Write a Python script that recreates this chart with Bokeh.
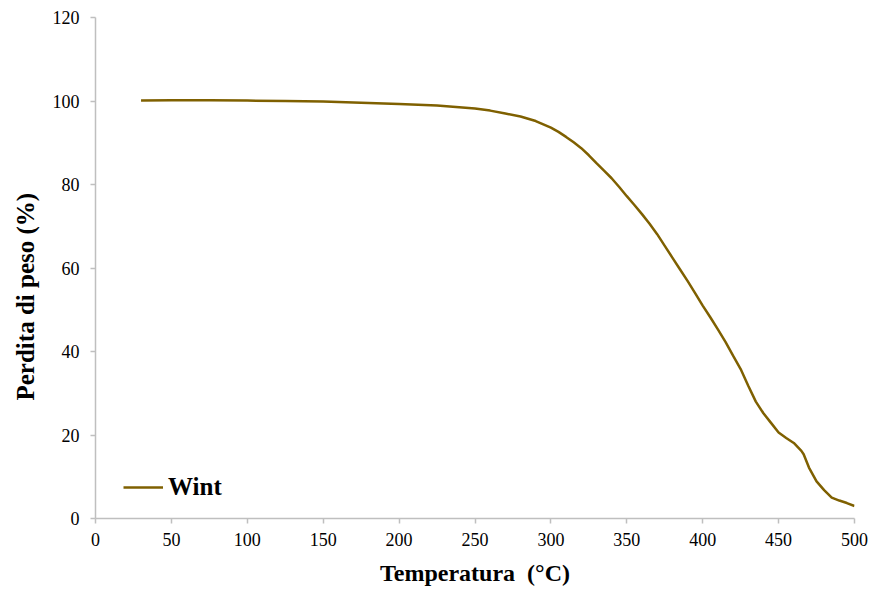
from bokeh.plotting import figure
from bokeh.models import Range1d, Legend, LegendItem, FixedTicker, Title
from bokeh.embed import file_html
from bokeh.resources import INLINE

temperature = [30, 50, 75, 100, 125, 150, 175, 200, 225, 250, 260, 270, 280, 290,
               300, 305, 310, 315, 320, 325, 330, 335, 340, 345, 350, 355, 360,
               365, 370, 375, 380, 385, 390, 395, 400, 405, 410, 415, 420, 425,
               430, 435, 440, 445, 450, 455, 460, 465, 466.5, 470, 475, 480,
               485, 490, 495, 500]
weight_loss = [100.1, 100.2, 100.2, 100.1, 100.0, 99.9, 99.6, 99.3, 98.9, 98.2,
               97.7, 97.0, 96.3, 95.2, 93.6, 92.6, 91.4, 90.1, 88.7, 87.0, 85.1,
               83.3, 81.5, 79.4, 77.2, 75.1, 72.9, 70.6, 68.1, 65.3, 62.5, 59.7,
               56.9, 54.0, 51.0, 48.2, 45.3, 42.3, 39.0, 35.8, 31.8, 28.0, 25.2,
               22.9, 20.6, 19.3, 18.1, 16.2, 15.4, 12.2, 8.9, 6.8, 5.0, 4.3,
               3.7, 3.0]
series_name = "Wint"
x_ticks = [0, 50, 100, 150, 200, 250, 300, 350, 400, 450, 500]
y_ticks = [0, 20, 40, 60, 80, 100, 120]
x_title = "Temperatura \u00a0(°C)"
y_title = "Perdita di peso (%)"

FONT = "Liberation Serif"
AXIS_COLOR = "#BFBFBF"
LINE_COLOR = "#7F6000"

p = figure(width=871, height=590, output_backend="svg", toolbar_location=None,
           x_range=Range1d(0, 500), y_range=Range1d(0, 120),
           min_border_left=95, min_border_right=17, min_border_top=17,
           min_border_bottom=72)
p.outline_line_color = None
p.grid.visible = False
p.background_fill_color = "white"
p.border_fill_color = "white"

for ax in (p.xaxis[0], p.yaxis[0]):
    ax.axis_line_color = AXIS_COLOR
    ax.axis_line_width = 1.5
    ax.major_tick_line_color = AXIS_COLOR
    ax.major_tick_line_width = 1.5
    ax.major_tick_out = 5
    ax.major_tick_in = 0
    ax.minor_tick_line_color = None
    ax.major_label_text_font = FONT
    ax.major_label_text_font_size = "18px"
    ax.major_label_text_color = "black"

p.xaxis[0].ticker = FixedTicker(ticks=x_ticks)
p.yaxis[0].ticker = FixedTicker(ticks=y_ticks)
p.xaxis[0].major_label_standoff = 9
p.yaxis[0].major_label_standoff = 11

p.xaxis[0].axis_label = x_title
p.xaxis[0].axis_label_text_font = FONT
p.xaxis[0].axis_label_text_font_size = "24px"
p.xaxis[0].axis_label_text_font_style = "bold"
p.xaxis[0].axis_label_text_color = "black"
p.xaxis[0].axis_label_standoff = 11

r = p.line(temperature, weight_loss, line_color=LINE_COLOR, line_width=2.5)

legend = Legend(items=[LegendItem(label=series_name, renderers=[r])],
                location=(28, 17), padding=0, margin=0,
                border_line_color=None, background_fill_alpha=0,
                glyph_width=40, glyph_height=20, label_standoff=5,
                label_text_font=FONT, label_text_font_size="25px",
                label_text_font_style="bold", label_text_color="black")
p.add_layout(legend, "center")

yt = Title(text=y_title, align="left", offset=118, standoff=20,
           vertical_align="middle",
           text_font=FONT, text_font_size="25px", text_font_style="bold",
           text_color="black")
p.add_layout(yt, "left")

open("out.html", "w").write(file_html(p, INLINE))
